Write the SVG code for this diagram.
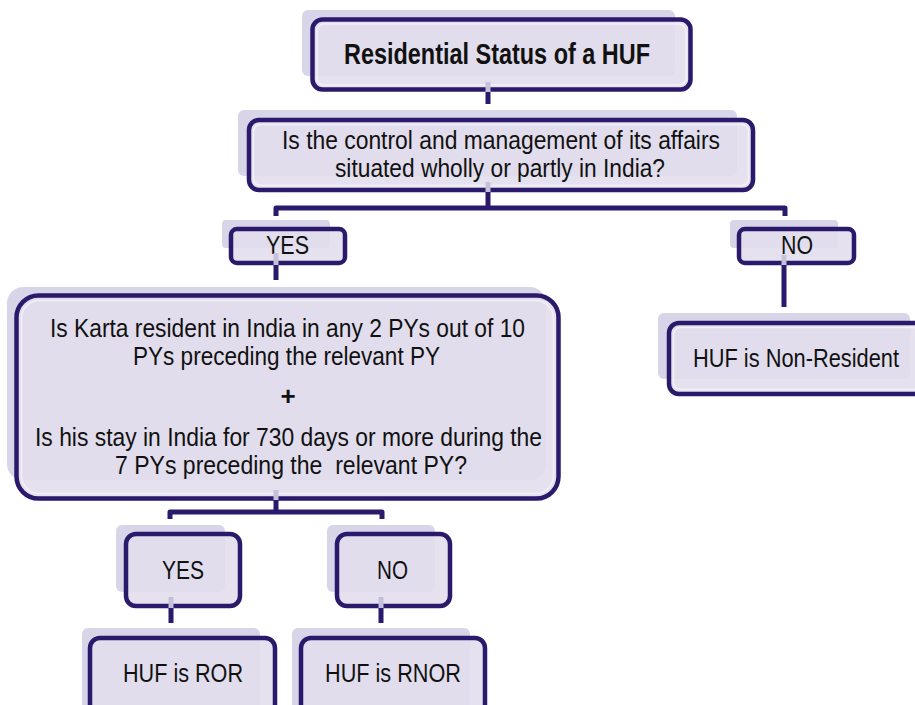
<svg xmlns="http://www.w3.org/2000/svg" width="915" height="705" viewBox="0 0 915 705">
<style>
.sh{fill:#d8d5e9;}
.bx{fill:#e2deec;fill-opacity:0.9;stroke:#2b1a6c;stroke-width:4.5;}
.hl{fill:none;stroke:#f3f1f8;stroke-width:1.5;}
.t{font-family:"Liberation Sans Narrow","Liberation Sans",Arial,sans-serif;font-size:26px;fill:#111;text-anchor:middle;}
.b{font-weight:bold;}
.ln{fill:none;stroke:#2b1a6c;stroke-width:5;stroke-linejoin:round;}
.lt{fill:none;stroke:#c6c1db;stroke-width:5;}
</style>
<rect width="915" height="705" fill="#ffffff"/>
<g id="node-title">
<rect class="sh" x="302" y="10" width="373" height="66" rx="6"/>
<rect class="bx" x="312.5" y="19.5" width="378" height="70" rx="10"/>
<rect class="hl" x="317" y="24" width="369" height="61" rx="7"/>
<text class="t b" x="497" y="64" style="font-size:29px" textLength="306" lengthAdjust="spacingAndGlyphs">Residential Status of a HUF</text>
</g>
<g id="node-q1">
<rect class="sh" x="238" y="110" width="499" height="66" rx="6"/>
<rect class="bx" x="249" y="120" width="504" height="70" rx="10"/>
<rect class="hl" x="253.5" y="124.5" width="495" height="61" rx="7"/>
<text class="t" x="501" y="149" textLength="438" lengthAdjust="spacingAndGlyphs">Is the control and management of its affairs</text>
<text class="t" x="500" y="177" textLength="330" lengthAdjust="spacingAndGlyphs">situated wholly or partly in India?</text>
</g>
<g id="node-yes1">
<rect class="sh" x="222" y="220" width="108" height="28" rx="4"/>
<rect class="bx" x="231" y="229" width="114" height="34" rx="6"/>
<text class="t" x="287.5" y="254" textLength="43" lengthAdjust="spacingAndGlyphs">YES</text>
</g>
<g id="node-no1">
<rect class="sh" x="730" y="220" width="108" height="28" rx="4"/>
<rect class="bx" x="739" y="229" width="115" height="34" rx="6"/>
<text class="t" x="797" y="254" textLength="32" lengthAdjust="spacingAndGlyphs">NO</text>
</g>
<g id="node-nonresident">
<rect class="sh" x="658" y="313" width="252" height="66" rx="6"/>
<rect class="bx" x="669" y="323" width="262" height="71" rx="10"/>
<rect class="hl" x="673.5" y="327.5" width="253" height="62" rx="7"/>
<text class="t" x="796" y="367" textLength="206" lengthAdjust="spacingAndGlyphs">HUF is Non-Resident</text>
</g>
<g id="node-q2">
<rect class="sh" x="7" y="287" width="539" height="193" rx="16"/>
<rect class="bx" x="16.5" y="295.5" width="542" height="203" rx="22"/>
<rect class="hl" x="21.5" y="300.5" width="532" height="193" rx="18"/>
<text class="t" x="287.5" y="337" textLength="475" lengthAdjust="spacingAndGlyphs">Is Karta resident in India in any 2 PYs out of 10</text>
<text class="t" x="286.5" y="365" textLength="307" lengthAdjust="spacingAndGlyphs">PYs preceding the relevant PY</text>
<text class="t b" x="288" y="405">+</text>
<text class="t" x="288.5" y="446" textLength="507" lengthAdjust="spacingAndGlyphs">Is his stay in India for 730 days or more during the</text>
<text class="t" x="291" y="474" textLength="352" lengthAdjust="spacingAndGlyphs" xml:space="preserve">7 PYs preceding the  relevant PY?</text>
</g>
<g id="node-yes2">
<rect class="sh" x="116" y="525" width="109" height="67" rx="6"/>
<rect class="bx" x="126" y="534" width="114" height="72" rx="10"/>
<text class="t" x="183" y="579" textLength="42" lengthAdjust="spacingAndGlyphs">YES</text>
</g>
<g id="node-no2">
<rect class="sh" x="327" y="525" width="108" height="67" rx="6"/>
<rect class="bx" x="337" y="534" width="113" height="72" rx="10"/>
<text class="t" x="392.5" y="579" textLength="31" lengthAdjust="spacingAndGlyphs">NO</text>
</g>
<g id="node-ror">
<rect class="sh" x="82" y="628" width="178" height="90" rx="6"/>
<rect class="bx" x="90" y="638" width="185" height="100" rx="10"/>
<text class="t" x="183" y="682" textLength="120" lengthAdjust="spacingAndGlyphs">HUF is ROR</text>
</g>
<g id="node-rnor">
<rect class="sh" x="292" y="628" width="178" height="90" rx="6"/>
<rect class="bx" x="301" y="638" width="184" height="100" rx="10"/>
<text class="t" x="393" y="682" textLength="136" lengthAdjust="spacingAndGlyphs">HUF is RNOR</text>
</g>
<g id="connectors">
<path class="lt" d="M488 82V92"/>
<path class="ln" d="M488 92V104"/>
<path class="lt" d="M488 182V192"/>
<path class="ln" d="M488 192V208"/>
<path class="ln" d="M276 216V208H785V216"/>
<path class="lt" d="M276 253V265"/>
<path class="ln" d="M276 265V280"/>
<path class="lt" d="M784 255V265"/>
<path class="ln" d="M784 265V307"/>
<path class="lt" d="M276 490V500"/>
<path class="ln" d="M276 500V512"/>
<path class="ln" d="M170 519V512H382V519"/>
<path class="lt" d="M171 597V608"/>
<path class="ln" d="M171 608V623"/>
<path class="lt" d="M381 597V608"/>
<path class="ln" d="M381 608V623"/>
</g>
</svg>
